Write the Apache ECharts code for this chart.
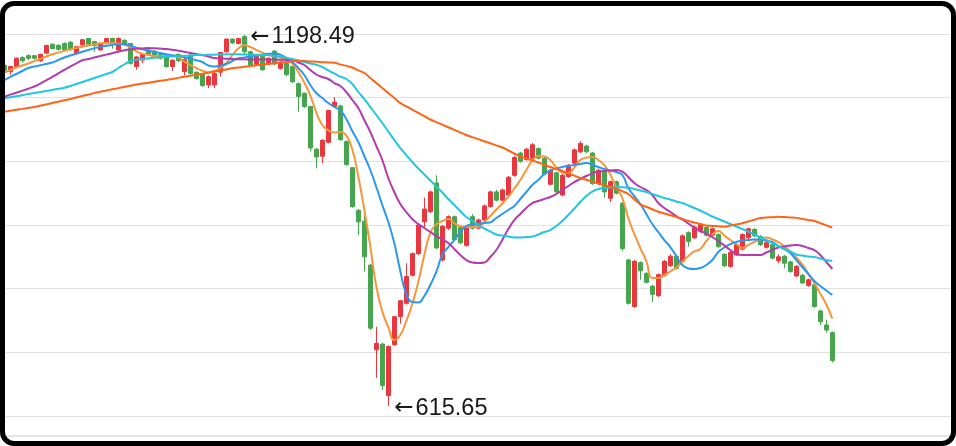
<!DOCTYPE html>
<html>
<head>
<meta charset="utf-8">
<script src="https://cdn.jsdelivr.net/npm/echarts@6/dist/echarts.min.js"></script>
<style>
  html, body { margin: 0; padding: 0; background: #fff; }
  #chart { position: absolute; left: 0; top: 0; width: 956px; height: 446px; }
  #frame {
    position: absolute; left: 0; top: 1px; width: 956px; height: 445px;
    box-sizing: border-box; border: 5px solid #000; border-radius: 14px;
    pointer-events: none;
  }
</style>
</head>
<body>
<div id="chart"></div>
<div id="frame"></div>
<script>
// daily candles: [open, close, low, high]
const candles = [
  [1151, 1143, 1141, 1153], [1141, 1149, 1136, 1150], [1149, 1162, 1147, 1163], [1163, 1158, 1155, 1165], [1166, 1162, 1159, 1168],
  [1166, 1162, 1160, 1167], [1158, 1168, 1156, 1169], [1170, 1182, 1168, 1183], [1184, 1177, 1176, 1185], [1182, 1176, 1174, 1184],
  [1185, 1175, 1173, 1187], [1187, 1176, 1174, 1189], [1170, 1180, 1168, 1181], [1183, 1191, 1181, 1192], [1193, 1184, 1183, 1194],
  [1188, 1182, 1172, 1189], [1175, 1185, 1174, 1186], [1185, 1193, 1184, 1194], [1193, 1185, 1177, 1194], [1175, 1193, 1173, 1195],
  [1190, 1183, 1181, 1192], [1185, 1154, 1152, 1186], [1149, 1164, 1144, 1165], [1159, 1168, 1154, 1169], [1175, 1167, 1165, 1176],
  [1173, 1167, 1165, 1175], [1168, 1162, 1160, 1170], [1164, 1149, 1147, 1166], [1149, 1159, 1142, 1160], [1168, 1158, 1156, 1169],
  [1141, 1160, 1135, 1164], [1167, 1138, 1136, 1168], [1140, 1130, 1128, 1141], [1137, 1119, 1117, 1139], [1120, 1133, 1115, 1135],
  [1120, 1138, 1115, 1141], [1140, 1171, 1133, 1172], [1172, 1192, 1171, 1193], [1192, 1186, 1184, 1193], [1185, 1193, 1184, 1194],
  [1196, 1172, 1168, 1198.49], [1172, 1151, 1149, 1174], [1152, 1165, 1150, 1166], [1165, 1144, 1142, 1167], [1153, 1162, 1151, 1163],
  [1173, 1153, 1151, 1175], [1146, 1156, 1144, 1158], [1154, 1136, 1134, 1156], [1149, 1125, 1123, 1150], [1122, 1102, 1078, 1124],
  [1107, 1086, 1084, 1108], [1086, 1021, 1016, 1087], [1019, 1007, 989, 1021], [1008, 1033, 997, 1035], [1030, 1080, 1028, 1081],
  [1086, 1093, 1085, 1101], [1087, 1034, 1032, 1089], [1031, 995, 993, 1033], [990, 929, 927, 991], [923, 905, 884, 925],
  [906, 850, 827, 922], [837, 738, 735, 839], [704, 714, 660, 740], [713, 648, 641, 715], [632, 709, 615.65, 711],
  [712, 756, 710, 757], [756, 781, 745, 782], [777, 819, 775, 840], [821, 855, 819, 857], [855, 900, 853, 902],
  [905, 925, 897, 943], [921, 952, 919, 954], [966, 864, 862, 978], [845, 898, 843, 900], [895, 913, 892, 915],
  [913, 877, 875, 915], [896, 872, 870, 898], [868, 896, 866, 898], [913, 895, 893, 917], [895, 908, 893, 910],
  [908, 930, 906, 932], [929, 952, 927, 954], [952, 939, 937, 955], [939, 955, 937, 957], [947, 975, 945, 977],
  [978, 1006, 976, 1008], [1013, 1000, 998, 1015], [1003, 1019, 1001, 1021], [1005, 1026, 1003, 1029], [1020, 1005, 1003, 1022],
  [1005, 980, 978, 1007], [964, 986, 962, 988], [982, 952, 950, 984], [947, 978, 945, 980], [976, 994, 974, 996],
  [997, 1018, 995, 1020], [1015, 1028, 1013, 1032], [1024, 1015, 1013, 1026], [1013, 965, 963, 1015], [965, 986, 963, 988],
  [984, 952, 943, 986], [942, 968, 936, 970], [968, 950, 948, 970], [934, 863, 859, 936], [845, 777, 775, 847],
  [772, 843, 770, 845], [841, 828, 814, 843], [824, 810, 808, 826], [804, 791, 779, 806], [789, 822, 787, 824],
  [821, 843, 819, 845], [836, 851, 834, 854], [851, 832, 830, 853], [843, 883, 841, 885], [888, 874, 866, 890],
  [880, 897, 878, 899], [890, 901, 888, 903], [896, 884, 882, 898], [884, 894, 882, 896], [885, 866, 864, 887],
  [854, 836, 834, 856], [835, 857, 833, 859], [853, 869, 851, 871], [862, 885, 860, 887], [880, 894, 878, 896],
  [893, 883, 881, 895], [882, 869, 867, 884], [865, 872, 863, 874], [869, 848, 846, 871], [844, 850, 840, 854],
  [851, 840, 832, 853], [842, 827, 825, 844], [820, 835, 818, 837], [821, 809, 807, 823], [805, 814, 803, 816],
  [806, 772, 770, 808], [765, 748, 743, 767], [743, 735, 731, 751], [731, 687, 684, 733]
];

const ma5 = [
  1139.5, 1143.5, 1147.4, 1150.5, 1153.7, 1157.3, 1161.0, 1164.7, 1168.1, 1170.8,
  1173.5, 1175.8, 1177.8, 1179.9, 1181.8, 1183.5, 1185.4, 1186.0, 1186.0, 1185.1,
  1183.5, 1178.8, 1172.8, 1169.2, 1167.3, 1165.4, 1165.1, 1166.9, 1165.8, 1163.1,
  1156.8, 1151.3, 1146.6, 1142.5, 1139.7, 1141.9, 1146.6, 1154.4, 1167.0, 1177.2,
  1182.2, 1179.6, 1175.2, 1170.6, 1167.0, 1165.0, 1163.1, 1159.2, 1153.7, 1140.3,
  1123.8, 1103.4, 1076.7, 1057.1, 1048.6, 1045.4, 1046.2, 1040.7, 1018.6, 976.2,
  924.3, 866.2, 803.4, 764.1, 739.8, 719.4, 727.2, 749.2, 775.9, 810.5,
  852.9, 887.4, 900.8, 906.3, 909.4, 903.1, 898.0, 896.9, 896.9, 896.9,
  904.7, 914.1, 924.3, 933.8, 944.0, 957.3, 970.7, 986.4, 1001.3, 1008.4,
  1007.6, 1002.1, 990.3, 982.5, 981.7, 990.3, 1002.1, 1006.0, 1006.8, 1002.1,
  994.2, 979.3, 959.7, 942.4, 911.0, 885.9, 863.9, 843.4, 816.7, 816.7,
  821.5, 827.0, 833.2, 841.9, 851.3, 858.4, 862.3, 874.9, 885.1, 890.6,
  883.5, 876.4, 870.1, 863.9, 868.6, 873.3, 877.2, 880.4, 877.2, 873.3,
  866.2, 858.4, 848.9, 837.9, 823.8, 808.9, 792.4, 775.1, 753.1
];

const ma10 = [
  1127.7, 1132.5, 1137.2, 1141.9, 1146.6, 1148.9, 1151.0, 1152.9, 1155.2, 1159.2,
  1163.1, 1166.2, 1169.1, 1172.0, 1174.9, 1177.5, 1180.0, 1181.5, 1182.9, 1184.0,
  1184.3, 1181.9, 1178.3, 1176.1, 1174.1, 1172.0, 1170.0, 1168.1, 1166.7, 1165.4,
  1163.4, 1161.2, 1158.8, 1156.0, 1150.5, 1148.9, 1150.2, 1152.9, 1157.6, 1161.8,
  1163.2, 1164.7, 1166.2, 1167.5, 1168.9, 1169.4, 1167.6, 1162.3, 1156.0, 1146.6,
  1135.6, 1119.9, 1107.3, 1099.5, 1091.6, 1085.3, 1079.8, 1066.5, 1047.6, 1030.4,
  1008.4, 986.4, 959.7, 931.4, 904.7, 871.7, 827.7, 791.6, 779.0, 778.3,
  788.5, 805.8, 826.2, 852.9, 865.4, 876.4, 889.0, 898.4, 900.8, 902.3,
  903.1, 904.4, 911.0, 917.3, 923.6, 929.8, 940.8, 951.8, 962.8, 970.7,
  980.1, 985.6, 988.7, 991.1, 992.7, 994.2, 995.8, 997.4, 995.0, 991.1,
  988.0, 985.6, 983.2, 978.5, 958.1, 945.5, 933.0, 917.3, 901.6, 889.0,
  876.4, 865.4, 851.3, 837.2, 831.7, 830.9, 832.5, 837.2, 845.0, 857.6,
  864.7, 870.1, 873.3, 875.6, 876.4, 877.2, 877.2, 874.9, 873.3, 867.0,
  862.3, 856.0, 845.0, 834.0, 823.0, 812.0, 804.2, 797.1, 790.0
];

const ma20 = [
  1101.5, 1104.7, 1107.8, 1110.9, 1114.1, 1117.5, 1122.2, 1127.3, 1132.5, 1138.0,
  1143.5, 1148.9, 1153.7, 1158.7, 1160.7, 1163.1, 1165.4, 1167.6, 1169.8, 1172.2,
  1174.6, 1176.0, 1176.7, 1177.4, 1178.0, 1177.5, 1177.1, 1176.4, 1175.2, 1173.8,
  1172.0, 1170.3, 1168.6, 1167.0, 1164.7, 1162.3, 1161.8, 1161.2, 1160.7, 1160.4,
  1160.3, 1159.9, 1159.9, 1159.9, 1159.9, 1159.8, 1159.5, 1159.3, 1159.2, 1155.2,
  1151.3, 1143.5, 1136.4, 1132.5, 1129.3, 1123.0, 1118.3, 1108.9, 1096.3, 1083.8,
  1064.9, 1046.1, 1024.1, 1002.1, 973.8, 951.8, 933.0, 920.4, 909.4, 901.6,
  895.3, 889.0, 882.7, 877.2, 871.7, 862.3, 852.9, 845.0, 841.1, 840.3,
  841.1, 849.7, 860.7, 876.5, 893.7, 907.8, 917.3, 926.7, 934.5, 937.7,
  940.8, 944.0, 948.7, 955.0, 961.2, 967.5, 972.2, 977.0, 980.9, 984.0,
  984.8, 985.6, 986.4, 984.0, 975.4, 966.0, 959.7, 955.0, 947.1, 934.5,
  926.7, 920.4, 914.1, 908.6, 902.3, 896.1, 890.6, 886.6, 881.1, 874.9,
  867.8, 860.7, 854.4, 852.9, 852.9, 852.9, 852.9, 856.8, 860.7, 864.7,
  866.2, 867.8, 868.6, 867.0, 863.9, 860.7, 852.9, 841.9, 830.9
];

const ma30 = [
  1099.0, 1100.6, 1102.1, 1103.9, 1105.6, 1107.2, 1108.9, 1110.5, 1112.2, 1113.9,
  1115.6, 1118.3, 1121.5, 1124.6, 1127.7, 1130.9, 1134.0, 1137.2, 1140.3, 1146.6,
  1152.1, 1157.6, 1159.5, 1160.7, 1161.7, 1162.6, 1163.6, 1164.3, 1164.8, 1165.3,
  1165.8, 1166.2, 1166.9, 1167.0, 1167.3, 1167.5, 1167.8, 1168.0, 1168.1, 1168.0,
  1167.8, 1167.6, 1167.3, 1167.2, 1166.9, 1165.8, 1164.7, 1162.6, 1160.6, 1158.5,
  1156.0, 1153.7, 1151.6, 1148.2, 1142.8, 1138.0, 1133.2, 1129.3, 1121.5, 1108.9,
  1097.9, 1085.3, 1072.8, 1060.2, 1046.9, 1033.5, 1020.9, 1009.9, 998.9, 988.7,
  979.3, 969.9, 960.5, 951.0, 940.8, 931.4, 922.0, 912.6, 906.3, 900.0,
  894.5, 889.8, 885.1, 883.5, 881.9, 880.4, 880.4, 881.1, 881.9, 885.1,
  889.0, 892.1, 898.4, 906.3, 915.7, 925.9, 936.1, 945.5, 952.6, 956.5,
  958.1, 958.9, 959.7, 959.2, 958.4, 956.5, 954.2, 951.8, 948.7, 945.5,
  942.4, 940.0, 936.9, 934.5, 930.6, 926.7, 922.8, 918.1, 913.3, 909.4,
  905.5, 901.6, 897.6, 893.7, 889.8, 885.1, 880.4, 876.4, 871.7, 867.0,
  862.3, 858.4, 853.7, 852.1, 850.5, 849.7, 847.4, 845.0, 843.4
];

const ma60 = [
  1078.0, 1079.5, 1081.0, 1082.4, 1083.9, 1085.3, 1087.4, 1089.5, 1091.6, 1093.7,
  1095.8, 1097.9, 1100.2, 1102.5, 1104.8, 1107.1, 1109.4, 1111.3, 1113.2, 1115.0,
  1116.9, 1118.8, 1120.7, 1122.1, 1123.5, 1125.0, 1126.4, 1127.8, 1129.4, 1131.1,
  1132.7, 1134.3, 1136.0, 1137.6, 1139.3, 1141.0, 1142.7, 1144.4, 1146.1, 1147.3,
  1148.5, 1149.7, 1150.8, 1152.0, 1153.2, 1154.1, 1155.1, 1156.0, 1157.0, 1157.9,
  1157.4, 1156.9, 1156.4, 1155.8, 1155.3, 1154.8, 1152.3, 1149.9, 1147.4, 1143.0,
  1138.7, 1130.9, 1123.0, 1115.2, 1107.3, 1099.5, 1091.6, 1086.4, 1081.2, 1076.1,
  1070.9, 1065.7, 1061.6, 1057.6, 1053.5, 1049.5, 1045.4, 1041.4, 1038.1, 1034.8,
  1031.6, 1028.3, 1025.0, 1021.7, 1017.0, 1012.3, 1007.6, 1004.6, 1001.6, 998.1,
  994.6, 991.1, 988.0, 984.8, 981.1, 977.5, 973.8, 971.0, 968.1, 965.3,
  962.6, 959.9, 957.2, 953.0, 948.7, 940.6, 932.5, 928.6, 924.8, 920.9,
  918.1, 915.4, 912.6, 909.5, 906.3, 903.9, 901.6, 899.2, 898.6, 897.9,
  897.3, 899.1, 900.9, 902.7, 905.5, 908.2, 911.0, 911.7, 912.3, 913.0,
  912.4, 911.8, 911.2, 909.6, 907.9, 906.3, 902.9, 899.5, 896.1
];

// trading-day slots; the axis leaves room on the right for days not yet traded
const slotCount = 159;
const days = Array.from({ length: slotCount }, (_, i) => 'D' + (i + 1));

const upColor = '#e8373e';
const downColor = '#47a44f';

const maLine = (name, data, color) => ({
  name, type: 'line', data, smooth: true, showSymbol: false,
  lineStyle: { width: 2, color }, itemStyle: { color }, z: 3
});

const chart = echarts.init(document.getElementById('chart'), null, { renderer: 'canvas' });
chart.setOption({
  animation: false,
  grid: { left: 1.3, right: 0.7, top: 34, bottom: 30 },
  xAxis: {
    type: 'category', data: days, boundaryGap: true,
    axisLine: { show: false }, axisTick: { show: false }, axisLabel: { show: false },
    splitLine: { show: false }
  },
  yAxis: {
    type: 'value', min: 600, max: 1200, interval: 100,
    axisLine: { show: false }, axisTick: { show: false }, axisLabel: { show: false },
    splitLine: { lineStyle: { color: '#e2e2e2', width: 1 } }
  },
  graphic: [{
    type: 'rect', shape: { x: 0, y: 435, width: 956, height: 2 },
    style: { fill: '#e4e4e4' }, silent: true
  }],
  series: [
    {
      name: 'K', type: 'candlestick', data: candles, barWidth: 4,
      itemStyle: { color: upColor, color0: downColor, borderColor: upColor, borderColor0: downColor, borderWidth: 1 },
      markPoint: {
        symbol: 'circle', symbolSize: 0,
        label: {
          show: true, position: 'right', distance: 6, offset: [0, 2],
          formatter: p => '{a|\u2190}{b|' + p.value + '}',
          rich: {
            a: { fontSize: 23, color: '#1a1a1a', fontFamily: 'DejaVu Sans', padding: [0, 2, 0, 0] },
            b: { fontSize: 23.5, color: '#1a1a1a', fontFamily: 'Liberation Sans' }
          }
        },
        data: [
          { type: 'max', valueDim: 'highest' },
          { type: 'min', valueDim: 'lowest' }
        ]
      }
    },
    maLine('MA5', ma5, '#f7953a'),
    maLine('MA10', ma10, '#2b98f0'),
    maLine('MA20', ma20, '#b23cae'),
    maLine('MA30', ma30, '#22c6df'),
    maLine('MA60', ma60, '#ff6414')
  ]
});
</script>
</body>
</html>
